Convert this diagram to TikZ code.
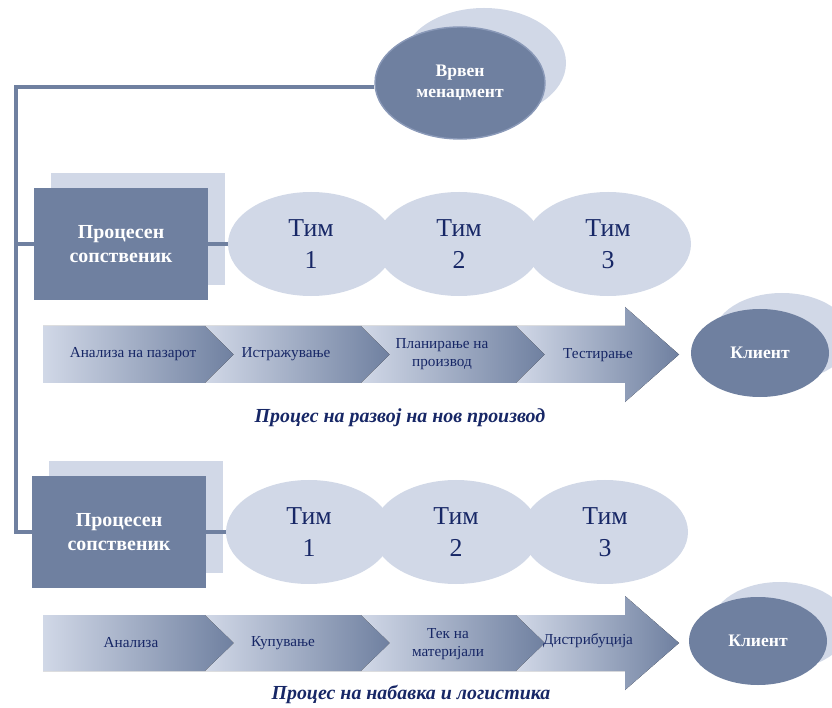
\documentclass[tikz,border=0pt]{standalone}
\usepackage{fontspec}
\setmainfont{Liberation Serif}
\usetikzlibrary{shapes.geometric}
\definecolor{slate}{HTML}{6F80A0}
\definecolor{pale}{HTML}{D1D8E7}
\definecolor{navy}{HTML}{172766}
\definecolor{rim}{HTML}{8A99B8}
\begin{document}
\begin{tikzpicture}[
  x=0.03cm, y=-0.03cm,
  every node/.style={inner sep=2pt},
  owner/.style={rectangle, fill=slate, minimum width=5.19cm, minimum height=3.36cm,
    text=white, font=\bfseries\fontsize{17}{21}\selectfont, align=center},
  ownerback/.style={rectangle, fill=pale, minimum width=5.19cm, minimum height=3.36cm},
  team/.style={ellipse, fill=pale, minimum width=4.98cm, minimum height=3.12cm,
    text=navy, font=\fontsize{22}{27}\selectfont, align=center},
  top/.style={ellipse, fill=slate, draw=rim, line width=1.2pt, minimum width=5.1cm, minimum height=3.36cm,
    text=white, font=\bfseries\fontsize{15}{18}\selectfont, align=center},
  topback/.style={ellipse, fill=pale, minimum width=4.92cm, minimum height=3.3cm},
  client/.style={ellipse, fill=slate, minimum width=4.14cm, minimum height=2.64cm,
    text=white, font=\bfseries\fontsize{15}{18}\selectfont},
  clientback/.style={ellipse, fill=pale, minimum width=4.14cm, minimum height=2.64cm},
  stage/.style={left color=pale, right color=slate},
  stagetxt/.style={text=navy, font=\fontsize{13}{15}\selectfont, align=center},
  caption/.style={text=navy, font=\bfseries\itshape\fontsize{17}{20}\selectfont},
  link/.style={-, slate, line width=3pt},
]
  \useasboundingbox (0,0) rectangle (832,708);
  % Top management
  \node[topback] (mgrb) at (484,63) {};
  \node[top] (mgr) at (460,83) {Врвен\\менаџмент};
  % Process owners
  \node[ownerback] (own1b) at (138,229) {};
  \node[owner] (own1) at (121,244) {Процесен\\сопственик};
  \node[ownerback] (own2b) at (136,517) {};
  \node[owner] (own2) at (119,532) {Процесен\\сопственик};
  % Teams
  \node[team] (t11) at (311,244) {Тим\\1};
  \node[team] (t12) at (459,244) {Тим\\2};
  \node[team] (t13) at (608,244) {Тим\\3};
  \node[team] (t21) at (309,532) {Тим\\1};
  \node[team] (t22) at (456,532) {Тим\\2};
  \node[team] (t23) at (605,532) {Тим\\3};
  % Spine and links
  \coordinate (spine) at (16,87);
  \draw[link] (spine -| mgr.west) -- (spine) |- (own2.west);
  \draw[link] (spine |- own1.west) -- (own1.west);
  \draw[link] (own1.east) -- (t11.west);
  \draw[link] (own2.east) -- (t21.west);
  % Process arrows
  \foreach \ya/\yb/\yh/\yl in {326/383/307/402, 615/671/596/690} {
    \pgfmathsetmacro\ym{(\ya+\yb)/2}
    \fill[stage] (43,\ya) -- (205,\ya) -- (234,\ym) -- (205,\yb) -- (43,\yb) -- cycle;
    \foreach \a/\b in {205/361, 361/516}
      \fill[stage] (\a,\ya) -- (\b,\ya) -- ({\b+29},\ym) -- (\b,\yb) -- (\a,\yb) -- ({\a+29},\ym) -- cycle;
    \fill[stage] (516,\ya) -- (625,\ya) -- (625,\yh) -- (679,\ym) -- (625,\yl) -- (625,\yb)
      -- (516,\yb) -- (545,\ym) -- cycle;
  }
  \node[stagetxt] (a1) at (133,354) {Анализа на пазарот};
  \node[stagetxt] (a2) at (286,354) {Истражување};
  \node[stagetxt] (a3) at (442,354) {Планирање на\\производ};
  \node[stagetxt] (a4) at (598,355) {Тестирање};
  \node[stagetxt] (b1) at (131,643) {Анализа};
  \node[stagetxt] (b2) at (283,643) {Купување};
  \node[stagetxt] (b3) at (448,644) {Тек на\\материјали};
  \node[stagetxt] (b4) at (588,641) {Дистрибуција};
  % Clients
  \node[clientback] (cl1b) at (782,337) {};
  \node[client] (cl1) at (760,353) {Клиент};
  \node[clientback] (cl2b) at (780,626) {};
  \node[client] (cl2) at (758,641) {Клиент};
  % Captions
  \node[caption] (cap1) at (400,418) {Процес на развој на нов производ};
  \node[caption] (cap2) at (411,694) {Процес на набавка и логистика};
\end{tikzpicture}
\end{document}
